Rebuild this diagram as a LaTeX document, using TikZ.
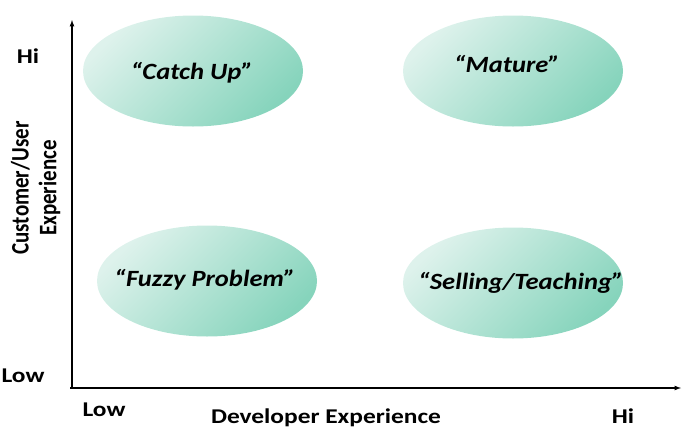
\documentclass[tikz,border=0pt]{standalone}
\usepackage{fontspec}
\setmainfont{Carlito}
\usetikzlibrary{shapes.geometric}
\newcommand{\mywide}[1]{\scalebox{1.21}[1]{#1}}
\newcommand{\myquadwide}[1]{\scalebox{1.14}[1]{#1}}
\begin{document}
\begin{tikzpicture}[x=1pt, y=-1pt]
    \definecolor{mymintlight}{RGB}{222,242,236}
    \definecolor{mymintdark}{RGB}{134,212,188}
    \tikzset{
        myblob/.style={ellipse, minimum width=220pt, minimum height=111pt, inner sep=0pt,
            top color=mymintlight, bottom color=mymintdark, shading angle=45},
        myquad/.style={font=\fontsize{23.3}{27}\selectfont\bfseries\itshape, inner sep=0pt},
        mylabel/.style={font=\fontsize{21}{23}\selectfont\bfseries, inner sep=0pt}
    }
    \useasboundingbox (0,0) rectangle (697,429);

    % quadrants
    \node[myblob] (catchup) at (193,71) {};
    \node[myblob] (mature) at (513,71) {};
    \node[myblob] (fuzzy) at (207,281) {};
    \node[myblob] (selling) at (513,283) {};
    \node[myquad] (catchuptxt) at (192,73) {\myquadwide{“Catch Up”}};
    \node[myquad] (maturetxt) at (507,64) {\myquadwide{“Mature”}};
    \node[myquad] (fuzzytxt) at (205,280) {\myquadwide{“Fuzzy Problem”}};
    \node[myquad] (sellingtxt) at (521,283) {\myquadwide{“Selling/Teaching”}};

    % axes
    \coordinate (origin) at (72,388);
    \coordinate (xstart) at (70,388);
    \coordinate (ytop) at (72,20);
    \coordinate (xend) at (681,388);
    \draw[-latex, line width=1.2pt] (origin) -- (ytop);
    \draw[-latex, line width=1.2pt] (xstart) -- (xend);

    \node[mylabel] (yhi) at (28,56) {\mywide{Hi}};
    \node[mylabel] (ylow) at (23,376) {\mywide{Low}};
    \node[mylabel] (xlow) at (104,410) {\mywide{Low}};
    \node[mylabel] (xhi) at (623,416) {\mywide{Hi}};
    \node[mylabel, anchor=base] (xname) at (326,423) {\mywide{Developer Experience}};
    \node[mylabel, rotate=90] (yname) at (37,188)
        {\scalebox{1}[1.2]{\begin{tabular}{@{}c@{}}Customer/User\\Experience\end{tabular}}};
\end{tikzpicture}
\end{document}
